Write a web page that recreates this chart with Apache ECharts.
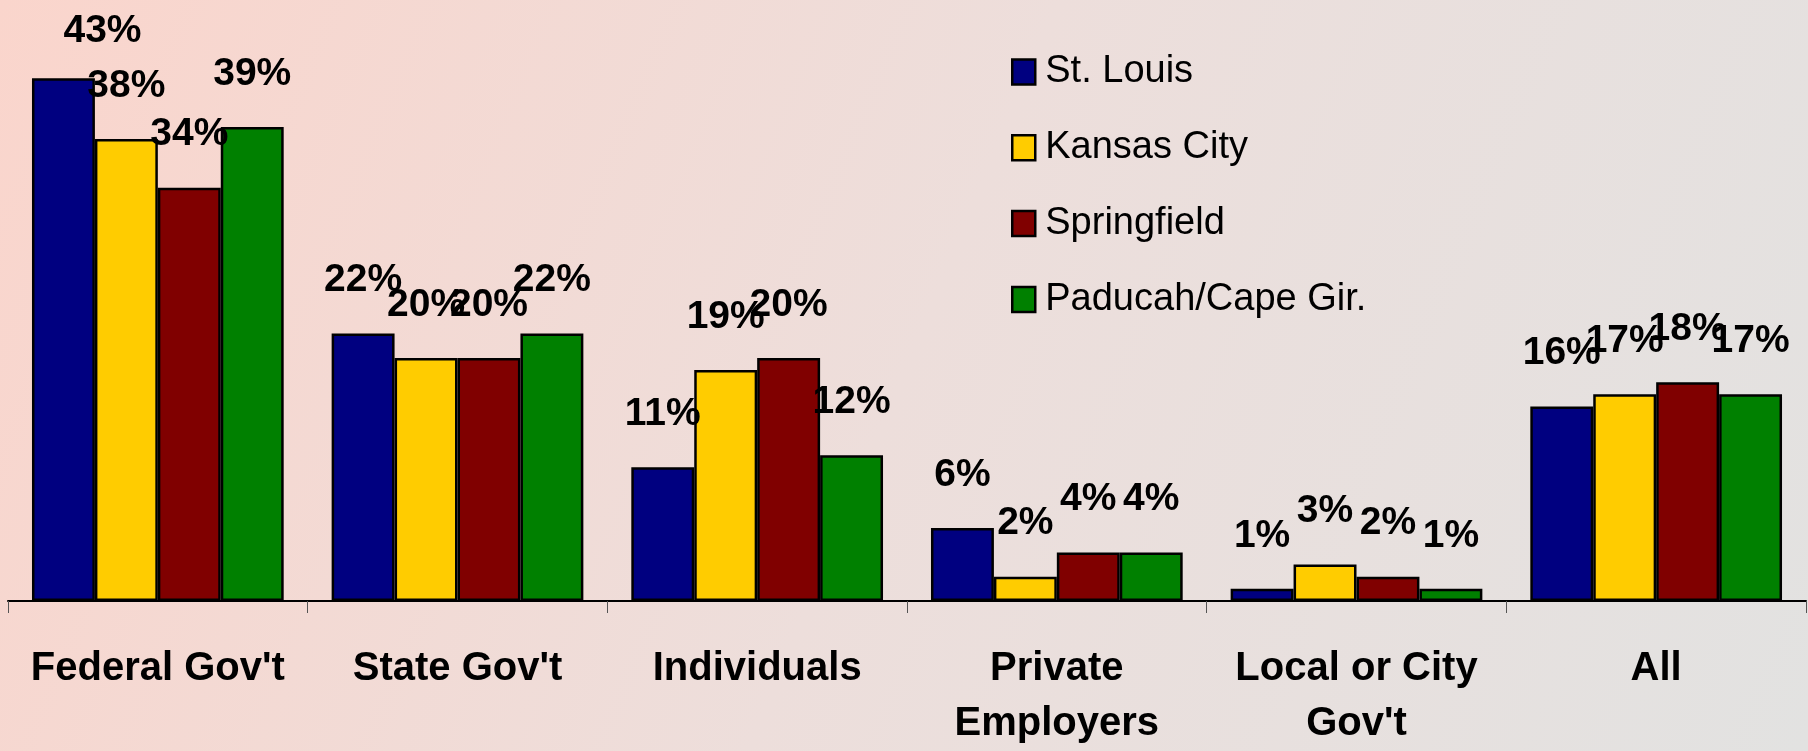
<!DOCTYPE html>
<html>
<head>
<meta charset="utf-8">
<script src="https://cdn.jsdelivr.net/npm/echarts@6/dist/echarts.min.js"></script>
<style>
html,body{margin:0;padding:0;width:1808px;height:751px;overflow:hidden;}
#c{width:1808px;height:751px;}
</style>
</head>
<body>
<div id="c"></div>
<script>
const categories = ["Federal Gov't", "State Gov't", "Individuals", "Private\nEmployers", "Local or City\nGov't", "All"];
const seriesNames = ["St. Louis", "Kansas City", "Springfield", "Paducah/Cape Gir."];
const stLouis = [43, 22, 11, 6, 1, 16];
const kansasCity = [38, 20, 19, 2, 3, 17];
const springfield = [34, 20, 20, 4, 2, 18];
const paducah = [39, 22, 12, 4, 1, 17];

const colors = ["#000080", "#FFCC00", "#800000", "#008000"];
const seriesData = [stLouis, kansasCity, springfield, paducah];
const FONT = "'Liberation Sans', Arial, sans-serif";

const chart = echarts.init(document.getElementById('c'), null, {renderer: 'canvas'});
chart.setOption({
  animation: false,
  backgroundColor: new echarts.graphic.LinearGradient(0, 0, 1, 1, [
    {offset: 0, color: '#FAD5CC'},
    {offset: 0.5, color: '#EDDEDB'},
    {offset: 1, color: '#E2E2E1'}
  ]),
  grid: {left: 8, right: 2, top: 54, bottom: 150, containLabel: false, outerBoundsMode: 'none'},
  legend: {
    orient: 'vertical',
    left: 1006,
    top: 48,
    itemWidth: 23,
    itemHeight: 25,
    itemGap: 37.8,
    icon: 'rect',
    itemStyle: {borderColor: '#000', borderWidth: 2.5},
    textStyle: {fontFamily: FONT, fontSize: 38, color: '#000', padding: [0, 0, 0, 5]},
    data: seriesNames
  },
  xAxis: {
    type: 'category',
    data: categories,
    axisLine: {show: true, lineStyle: {color: '#000', width: 2}},
    axisTick: {show: true, length: 12, lineStyle: {color: '#555', width: 1}},
    axisLabel: {
      fontFamily: FONT, fontSize: 40, fontWeight: 'bold', color: '#000',
      lineHeight: 55, margin: 40, interval: 0
    }
  },
  yAxis: {
    type: 'value', min: 0, max: 45,
    show: false,
    splitLine: {show: false}
  },
  series: seriesData.map((d, i) => ({
    name: seriesNames[i],
    type: 'bar',
    data: d,
    barGap: '0%',
    barCategoryGap: '16%',
    itemStyle: {color: colors[i], borderColor: '#000', borderWidth: 2.5},
    label: {
      show: true, position: 'top', distance: 33,
      formatter: '{c}%',
      fontFamily: FONT, fontSize: 39, fontWeight: 'bold', color: '#000', lineHeight: 40
    },
    labelLayout: function (p) {
      if (p.labelRect.y < 11) {
        return {y: 11};
      }
      return {};
    }
  }))
});
</script>
</body>
</html>
